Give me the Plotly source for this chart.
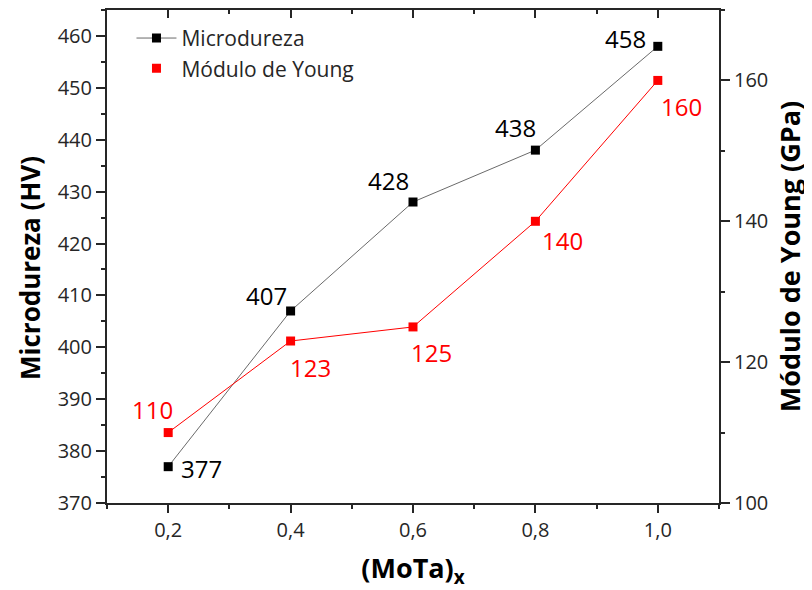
import plotly.graph_objects as go

x_vals = [0.2, 0.4, 0.6, 0.8, 1.0]
microdureza = [377, 407, 428, 438, 458]
young = [110, 123, 125, 140, 160]
x_ticktext = ["0,2", "0,4", "0,6", "0,8", "1,0"]

# label offsets in pixels (dx right, dy down) relative to each marker
micro_label_dx = [33, -24, -25, -20, -32]
micro_label_dy = [0, -17, -24, -25, -10]
young_label_dx = [-16, 20, 18, 27, 24]
young_label_dy = [-25, 24, 24, 17, 24]

FONT = "Open Sans"
AX = "#262626"
LBL = 24

fig = go.Figure()
fig.add_trace(go.Scatter(
    x=x_vals, y=microdureza, name="Microdureza",
    mode="lines+markers",
    line=dict(color="#6a6a6a", width=1),
    marker=dict(symbol="square", size=9, color="black"),
    yaxis="y",
))
fig.add_trace(go.Scatter(
    x=x_vals, y=young, name="Módulo de Young",
    mode="lines", line=dict(color="red", width=1),
    showlegend=False, yaxis="y2",
))
fig.add_trace(go.Scatter(
    x=x_vals, y=young, name="Módulo de Young",
    mode="markers",
    marker=dict(symbol="square", size=9, color="red"),
    yaxis="y2",
))
# invisible trace on top axis for inward mirror ticks
fig.add_trace(go.Scatter(x=x_vals, y=microdureza, xaxis="x2", mode="none",
                         showlegend=False, hoverinfo="skip"))

annotations = []
for xv, yv, dx, dy in zip(x_vals, microdureza, micro_label_dx, micro_label_dy):
    annotations.append(dict(x=xv, y=yv, xref="x", yref="y", text=str(yv), showarrow=False,
                            xanchor="center", yanchor="middle", xshift=dx, yshift=-dy - 2,
                            font=dict(size=LBL, color="black", family=FONT)))
for xv, yv, dx, dy in zip(x_vals, young, young_label_dx, young_label_dy):
    annotations.append(dict(x=xv, y=yv, xref="x", yref="y2", text=str(yv), showarrow=False,
                            xanchor="center", yanchor="middle", xshift=dx, yshift=-dy - 2,
                            font=dict(size=LBL, color="red", family=FONT)))
# left axis title
annotations.append(dict(x=-0.1258, y=0.4767, xref="paper", yref="paper",
                        text="<b>Microdureza (HV)</b>", textangle=-90, showarrow=False,
                        xanchor="center", yanchor="middle",
                        font=dict(size=26, color="black", family=FONT)))

fig.update_layout(
    width=804, height=582,
    margin=dict(l=99, r=93, t=2, b=87),
    paper_bgcolor="white", plot_bgcolor="white",
    font=dict(family=FONT, size=20, color=AX),
    showlegend=True,
    annotations=annotations,
    legend=dict(x=0.04, y=0.984, xanchor="left", yanchor="top",
                font=dict(size=21, color=AX, family=FONT),
                bgcolor="rgba(0,0,0,0)", itemwidth=40),
    xaxis=dict(
        range=[0.1, 1.1], tickvals=x_vals, ticktext=x_ticktext,
        ticks="outside", ticklen=8, tickwidth=1.5, tickcolor=AX, automargin=False,
        minor=dict(dtick=0.1, tick0=0.1, ticks="outside", ticklen=4, tickwidth=1.5, tickcolor=AX),
        showline=True, linewidth=2, linecolor=AX, showgrid=False, zeroline=False,
        title=dict(text="<b>(MoTa)<sub>x</sub></b>", font=dict(size=27, color="black"), standoff=32),
    ),
    xaxis2=dict(
        overlaying="x", side="top", range=[0.1, 1.1], tickvals=x_vals, automargin=False,
        showticklabels=False, ticks="inside", ticklen=8, tickwidth=1.5, tickcolor=AX,
        minor=dict(dtick=0.1, tick0=0.1, ticks="inside", ticklen=4, tickwidth=1.5, tickcolor=AX),
        showline=True, linewidth=2, linecolor=AX, showgrid=False, zeroline=False,
    ),
    yaxis=dict(
        range=[370, 465], tickvals=[370, 380, 390, 400, 410, 420, 430, 440, 450, 460],
        ticks="outside", ticklen=9, tickwidth=1.5, tickcolor=AX, automargin=False,
        minor=dict(dtick=5, tick0=370, ticks="outside", ticklen=4, tickwidth=1.5, tickcolor=AX),
        showline=True, linewidth=2, linecolor=AX, showgrid=False, zeroline=False,
    ),
    yaxis2=dict(
        overlaying="y", side="right", range=[100, 170], tickvals=[100, 120, 140, 160],
        ticks="outside", ticklen=9, tickwidth=1.5, tickcolor=AX, automargin=False,
        minor=dict(dtick=10, tick0=100, ticks="outside", ticklen=4, tickwidth=1.5, tickcolor=AX),
        showline=True, linewidth=2, linecolor=AX, showgrid=False, zeroline=False,
        title=dict(text="<b>Módulo de Young (GPa)</b>", font=dict(size=27, color="black"), standoff=14),
    ),
)

fig.write_html("out.html")
